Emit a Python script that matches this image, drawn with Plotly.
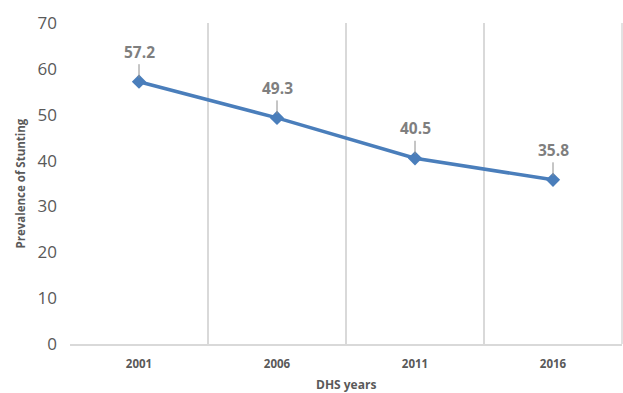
import plotly.graph_objects as go

years = ["2001", "2006", "2011", "2016"]
stunting = [57.2, 49.3, 40.5, 35.8]
y_ticks = [0, 10, 20, 30, 40, 50, 60, 70]

FONT = "Open Sans, Liberation Sans"
fig = go.Figure()
fig.add_trace(go.Scatter(
    x=years, y=stunting, mode="lines+markers",
    line=dict(color="#4a7ebb", width=3.5),
    marker=dict(symbol="diamond", size=11, color="#4a7ebb"),
    showlegend=False, hoverinfo="skip"))

for i, v in enumerate(stunting):
    fig.add_annotation(x=i, y=v, xref="x", yref="y", text="<b>%.1f</b>" % v, showarrow=True,
                       arrowhead=0, arrowwidth=1, arrowcolor="#8c8c8c",
                       ax=0, ay=-30, standoff=4,
                       font=dict(family=FONT, size=15.5, color="#7f7f7f"))

fig.add_annotation(text="<b>DHS years</b>", xref="paper", yref="paper", x=0.5, y=0,
                   yshift=-40, yanchor="middle", showarrow=False,
                   font=dict(family=FONT, size=12, color="#595959"))
fig.add_annotation(text="<b>Prevalence of Stunting</b>", xref="paper", yref="paper", x=0, y=0.5,
                   xshift=-50, xanchor="center", textangle=-90, showarrow=False,
                   font=dict(family=FONT, size=11.5, color="#595959"))
fig.add_shape(type="line", xref="paper", yref="paper", x0=1, x1=1, y0=0, y1=1,
              line=dict(color="#d9d9d9", width=1.5))

fig.update_layout(
    width=623, height=393, margin=dict(l=70, r=1, t=23, b=49),
    plot_bgcolor="white", paper_bgcolor="white",
    xaxis=dict(type="category", tickson="boundaries", showgrid=True, gridcolor="#d9d9d9",
               gridwidth=1.5, showline=True, linecolor="#d9d9d9", linewidth=1.5,
               ticks="", range=[-0.5, 3.5],
               tickfont=dict(family=FONT, size=11.5, color="#595959", weight="bold"),
               ticklabelstandoff=8),
    yaxis=dict(range=[0, 70], tickvals=y_ticks, showgrid=False, zeroline=False, showline=False,
               ticks="", ticklabelstandoff=12,
               tickfont=dict(family=FONT, size=17, color="#595959")),
)
fig.write_html("out.html")
